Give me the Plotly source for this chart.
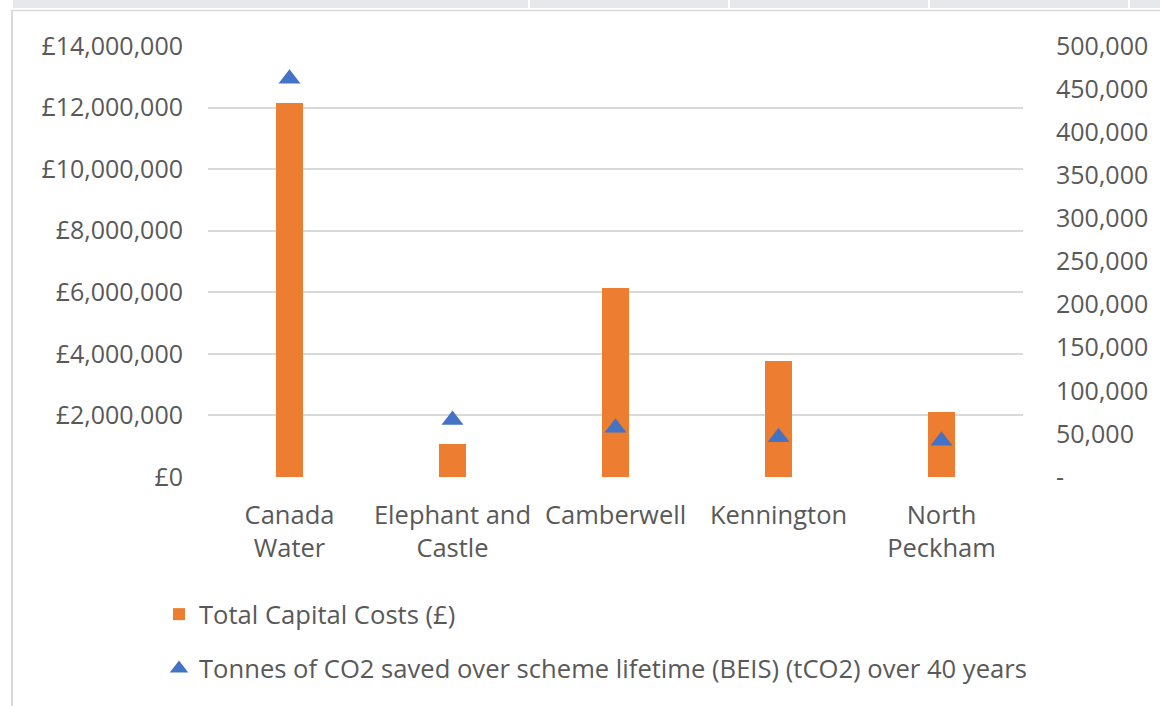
import plotly.graph_objects as go

# --- data -------------------------------------------------------------
categories = ["Canada<br>Water", "Elephant and<br>Castle", "Camberwell",
              "Kennington", "North<br>Peckham"]
capital_costs = [12150000, 1080000, 6150000, 3780000, 2100000]
co2_saved = [462000, 66000, 57000, 46000, 42000]

cost_ticks = list(range(0, 14000001, 2000000))
cost_tick_labels = [f"£{v:,}" for v in cost_ticks]
co2_ticks = list(range(0, 500001, 50000))
co2_tick_labels = ["-" if v == 0 else f"{v:,}" for v in co2_ticks]

cost_name = "Total Capital Costs (£)"
co2_name = "Tonnes of CO2 saved over scheme lifetime (BEIS) (tCO2) over 40 years"

# --- page geometry (pixels) -------------------------------------------
W, H = 1160, 706
PL, PR, PT, PB = 208, 1023, 46, 477  # plot area box


def fx(px):
    return (px - PL) / (PR - PL)


def fy(py):
    return (PB - py) / (PB - PT)


TEXT = "#595959"
GRID = "#d9d9d9"
FONT = "Open Sans"

fig = go.Figure()
fig.add_trace(go.Bar(
    x=categories, y=capital_costs, name=cost_name,
    marker=dict(color="#ED7D31", line=dict(width=0)),
    width=0.17, yaxis="y", legendgroup="a",
))
fig.add_trace(go.Scatter(
    x=categories, y=co2_saved, name=co2_name, mode="markers",
    marker=dict(symbol="triangle-up", size=19, color="#4472C4"),
    yaxis="y2", legendgroup="b",
))

shapes = []
# spreadsheet header strip above the chart
shapes.append(dict(type="rect", xref="paper", yref="paper",
                   x0=fx(13), x1=fx(W), y0=fy(0), y1=fy(8),
                   fillcolor="#e7e8eb", line=dict(width=0), layer="below"))
for sx in [529, 729, 929, 1129]:
    shapes.append(dict(type="line", xref="paper", yref="paper",
                       x0=fx(sx), x1=fx(sx), y0=fy(0), y1=fy(8),
                       line=dict(color="white", width=2)))
# chart frame
shapes.append(dict(type="line", xref="paper", yref="paper",
                   x0=fx(12), x1=fx(12), y0=fy(10), y1=fy(H),
                   line=dict(color=GRID, width=2)))
shapes.append(dict(type="line", xref="paper", yref="paper",
                   x0=fx(12), x1=fx(W), y0=fy(10.5), y1=fy(10.5),
                   line=dict(color=GRID, width=1.5)))

fig.update_layout(
    width=W, height=H,
    margin=dict(l=PL, r=W - PR, t=PT, b=H - PB, autoexpand=False),
    paper_bgcolor="white", plot_bgcolor="white",
    font=dict(family=FONT, size=25, color=TEXT),
    showlegend=True,
    bargap=0,
    shapes=shapes,
    xaxis=dict(
        type="category", showgrid=False, showline=False, zeroline=False,
        ticks="", ticklabelstandoff=20, automargin=False,
        tickfont=dict(family=FONT, size=25.5, color=TEXT),
    ),
    yaxis=dict(
        range=[0, 14000000], tickvals=cost_ticks, ticktext=cost_tick_labels,
        showgrid=True, gridcolor=GRID, gridwidth=1.5,
        zeroline=False, showline=False, ticks="", ticklabelstandoff=24,
        automargin=False, tickfont=dict(family=FONT, size=25, color=TEXT),
    ),
    yaxis2=dict(
        range=[0, 500000], tickvals=co2_ticks, ticktext=co2_tick_labels,
        overlaying="y", side="right", showgrid=False, zeroline=False,
        showline=False, ticks="", ticklabelstandoff=32, automargin=False,
        tickfont=dict(family=FONT, size=25, color=TEXT),
    ),
    legend=dict(
        orientation="v", x=fx(159), y=fy(591), xanchor="left", yanchor="top",
        font=dict(family=FONT, size=25.6, color=TEXT),
        bgcolor="rgba(0,0,0,0)", tracegroupgap=18, itemclick=False,
    ),
)

fig.write_html("out.html")
